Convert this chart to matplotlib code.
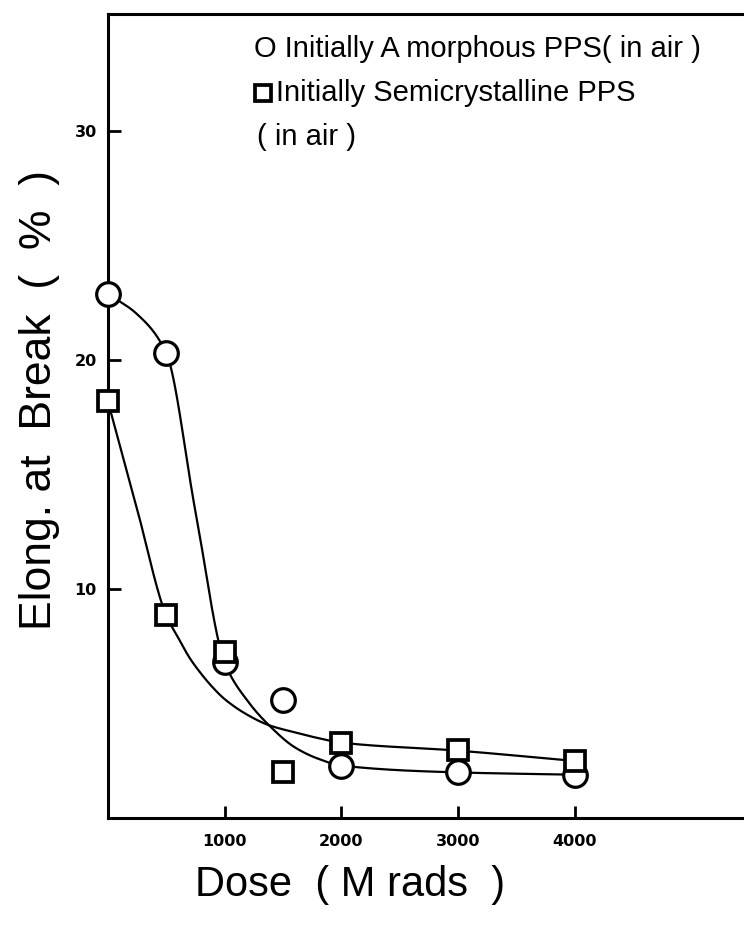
import numpy as np
import matplotlib.pyplot as plt

# measured points
dose = [0, 500, 1000, 1500, 2000, 3000, 4000]
elong_amorph = [22.9, 20.3, 6.8, 5.15, 2.3, 2.0, 1.9]
elong_semi = [18.2, 8.85, 7.25, 2.0, 3.3, 3.0, 2.5]

# hand-drawn trend curves
curve_amorph_x = [0, 250, 500, 750, 1000, 1200, 1380, 1600, 1800, 2000, 3000, 4000]
curve_amorph_y = [22.9, 22.0, 20.3, 13.4, 6.8, 5.1, 4.06, 3.1, 2.6, 2.3, 2.0, 1.9]
curve_semi_x = [0, 250, 500, 600, 700, 800, 900, 1000, 1200, 1380, 1600, 1800, 2000, 3000, 4000]
curve_semi_y = [18.2, 13.5, 8.85, 7.9, 7.0, 6.3, 5.7, 5.2, 4.5, 4.06, 3.75, 3.5, 3.3, 2.95, 2.5]

xticks = [1000, 2000, 3000, 4000]
yticks = [10, 20, 30]


def pchip(x, y, xn):
    # monotone cubic hermite, just for a smooth pen-drawn look
    x = np.asarray(x, float)
    y = np.asarray(y, float)
    h = np.diff(x)
    d = np.diff(y) / h
    m = np.zeros_like(y)
    for k in range(1, len(x) - 1):
        if d[k - 1] * d[k] > 0:
            w1 = 2 * h[k] + h[k - 1]
            w2 = h[k] + 2 * h[k - 1]
            m[k] = (w1 + w2) / (w1 / d[k - 1] + w2 / d[k])
    m[0] = d[0]
    m[-1] = d[-1]
    i = np.clip(np.searchsorted(x, xn) - 1, 0, len(h) - 1)
    t = (xn - x[i]) / h[i]
    h00 = 2 * t**3 - 3 * t**2 + 1
    h10 = t**3 - 2 * t**2 + t
    h01 = -2 * t**3 + 3 * t**2
    h11 = t**3 - t**2
    return h00 * y[i] + h10 * h[i] * m[i] + h01 * y[i + 1] + h11 * h[i] * m[i + 1]


fig = plt.figure(figsize=(7.44, 9.33), dpi=100)
ax = fig.add_axes([0.145, 0.123, 0.855, 0.862])

xs = np.linspace(0, 4000, 800)
ax.plot(xs, pchip(curve_amorph_x, curve_amorph_y, xs), color='black', lw=1.6, zorder=2)
ax.plot(xs, pchip(curve_semi_x, curve_semi_y, xs), color='black', lw=1.6, zorder=2)

ax.plot(dose, elong_amorph, 'o', ms=17, mfc='white', mec='black', mew=2.3,
        ls='none', zorder=3, clip_on=False)
ax.plot(dose, elong_semi, 's', ms=14, mfc='white', mec='black', mew=2.7,
        ls='none', zorder=4, clip_on=False)

ax.set_xlim(0, 5450)
ax.set_ylim(0, 35.1)
ax.set_xticks(xticks)
ax.set_yticks(yticks)
ax.tick_params(direction='in', length=9, width=2, labelsize=11.5, pad=8)
ax.tick_params(axis='x', pad=11)
for lab in ax.get_xticklabels() + ax.get_yticklabels():
    lab.set_fontweight('bold')
for s in ax.spines.values():
    s.set_linewidth(2.2)
ax.spines['right'].set_visible(False)

# legend written in by hand
ax.text(0.23, 0.956, 'O Initially A morphous PPS( in air )', transform=ax.transAxes,
        fontsize=21, family='Liberation Sans', va='center')
ax.plot([0.244], [0.902], 's', ms=12, mfc='white', mec='black', mew=2.7,
        transform=ax.transAxes)
ax.text(0.265, 0.902, 'Initially Semicrystalline PPS', transform=ax.transAxes,
        fontsize=21, family='Liberation Sans', va='center')
ax.text(0.235, 0.847, '( in air )', transform=ax.transAxes,
        fontsize=21, family='Liberation Sans', va='center')

fig.text(350 / 744, 1 - 885 / 933, 'Dose  ( M rads  )', fontsize=30,
         family='Liberation Sans', ha='center', va='center')
fig.text(40 / 744, 1 - 400 / 933, 'Elong. at  Break  (  %  )', fontsize=32,
         family='Liberation Sans', rotation=90, ha='center', va='center')

fig.savefig('out.png', dpi=100)
